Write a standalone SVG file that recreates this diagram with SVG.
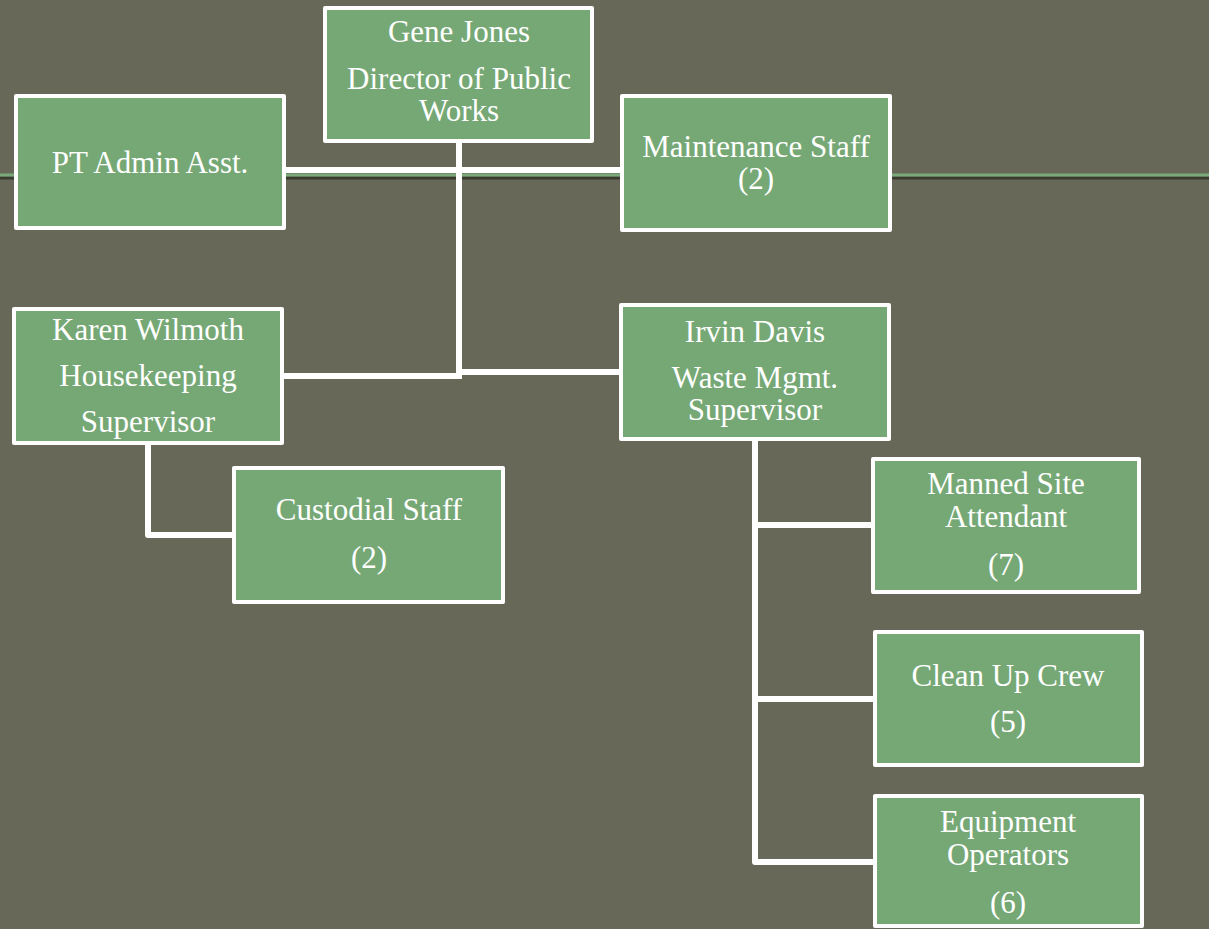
<svg xmlns="http://www.w3.org/2000/svg" width="1209" height="929" viewBox="0 0 1209 929">
<style>
.bg{fill:#676858}
.box{fill:#76a876;stroke:#ffffff;stroke-width:4;stroke-linejoin:round}
.conn{fill:none;stroke:#ffffff;stroke-width:6;stroke-linejoin:round}
text{font-family:"Liberation Serif","Times New Roman",serif;font-size:31px;fill:#ffffff;text-anchor:middle}
</style>
<defs>
<pattern id="tex" width="4" height="4" patternUnits="userSpaceOnUse">
<rect width="4" height="4" fill="#676858"/>
<rect x="0" y="0" width="1" height="1" fill="#6e6f60"/>
<rect x="2" y="2" width="1" height="1" fill="#606151"/>
</pattern>
</defs>
<rect class="bg" x="0" y="0" width="1209" height="929" fill="url(#tex)"/>
<g id="slide-rule">
<rect x="0" y="176.5" width="1209" height="3" fill="#3b3c31"/>
<rect x="0" y="173.5" width="1209" height="3" fill="#7aaa7a"/>
</g>
<g id="connectors">
<path class="conn" d="M285 170 H621"/>
<path class="conn" d="M459 142 V376"/>
<path class="conn" d="M284 376 H462"/>
<path class="conn" d="M459 372 H621"/>
<path class="conn" d="M148 445 V535 H234"/>
<path class="conn" d="M755 441 V862 H875"/>
<path class="conn" d="M755 525 H873"/>
<path class="conn" d="M755 699 H875"/>
</g>
<g id="gene-jones">
<rect class="box" x="325" y="8" width="267" height="133"/>
<text x="459" y="42">Gene Jones</text>
<text x="459" y="89">Director of Public</text>
<text x="459" y="121">Works</text>
</g>
<g id="pt-admin">
<rect class="box" x="16" y="96" width="268" height="132"/>
<text x="150" y="173">PT Admin Asst.</text>
</g>
<g id="maintenance">
<rect class="box" x="622" y="96" width="268" height="134"/>
<text x="756" y="157">Maintenance Staff</text>
<text x="756" y="189">(2)</text>
</g>
<g id="karen-wilmoth">
<rect class="box" x="14" y="309" width="268" height="134"/>
<text x="148" y="340">Karen Wilmoth</text>
<text x="148" y="386">Housekeeping</text>
<text x="148" y="432">Supervisor</text>
</g>
<g id="custodial">
<rect class="box" x="234" y="468" width="269" height="134"/>
<text x="369" y="520">Custodial Staff</text>
<text x="369" y="568">(2)</text>
</g>
<g id="irvin-davis">
<rect class="box" x="621" y="305" width="268" height="134"/>
<text x="755" y="342">Irvin Davis</text>
<text x="755" y="388">Waste Mgmt.</text>
<text x="755" y="420">Supervisor</text>
</g>
<g id="manned-site">
<rect class="box" x="873" y="459" width="266" height="133"/>
<text x="1006" y="494">Manned Site</text>
<text x="1006" y="527">Attendant</text>
<text x="1006" y="575">(7)</text>
</g>
<g id="clean-up">
<rect class="box" x="875" y="632" width="267" height="133"/>
<text x="1008" y="686">Clean Up Crew</text>
<text x="1008" y="732">(5)</text>
</g>
<g id="equipment">
<rect class="box" x="875" y="796" width="267" height="130"/>
<text x="1008" y="832">Equipment</text>
<text x="1008" y="865">Operators</text>
<text x="1008" y="913">(6)</text>
</g>
</svg>
